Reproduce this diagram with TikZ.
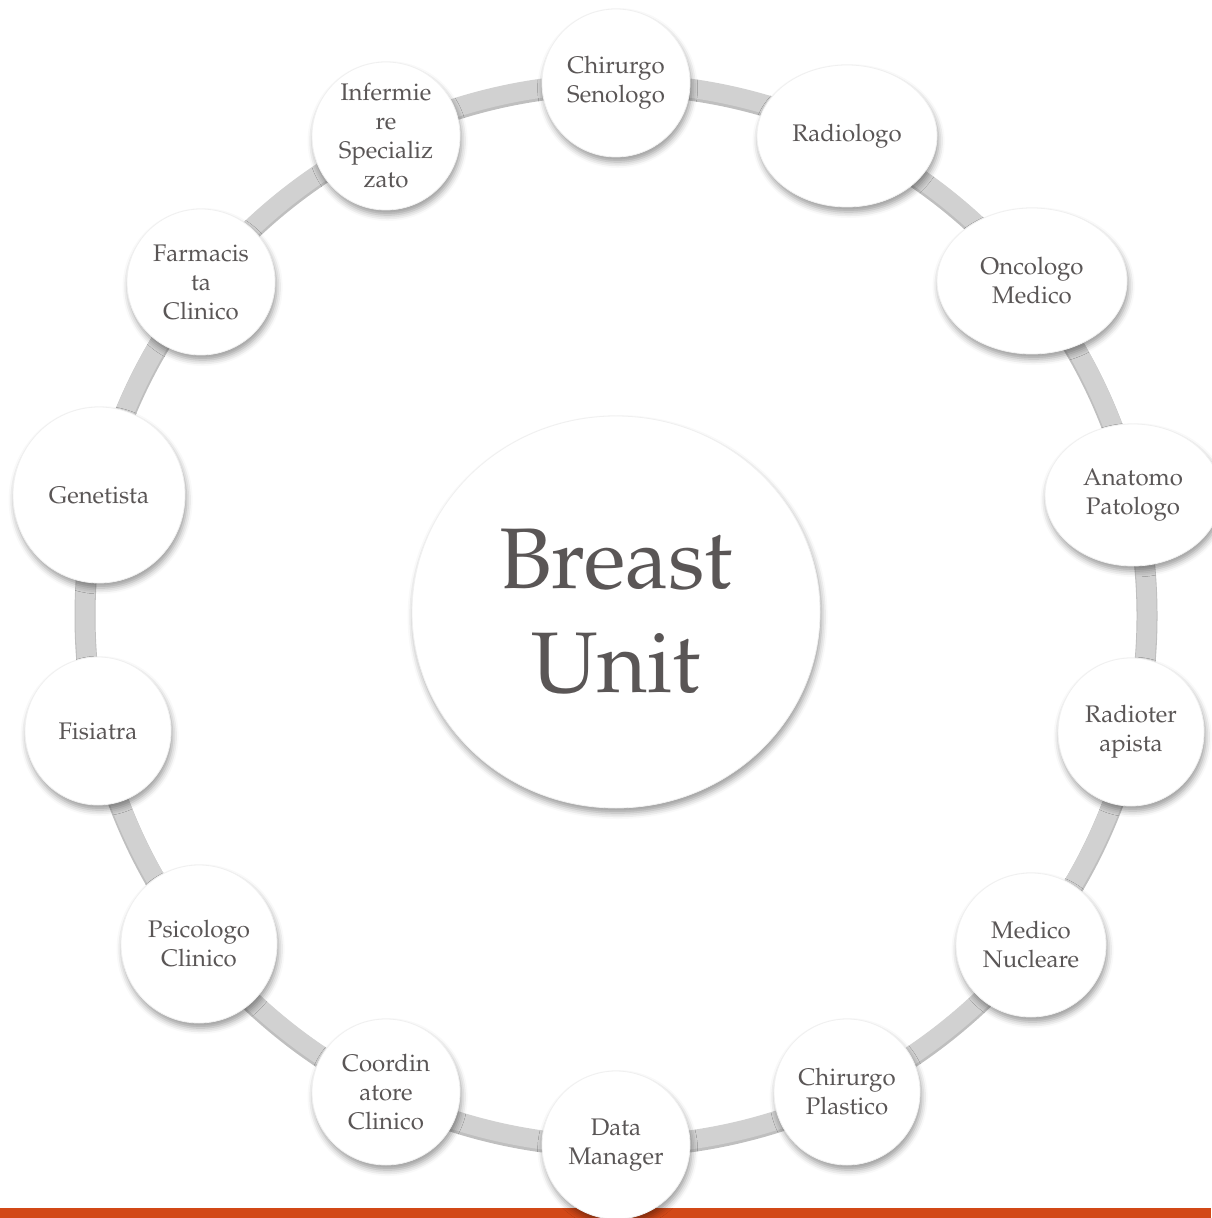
\documentclass[tikz,border=0pt]{standalone}
\usepackage[T1]{fontenc}
\usepackage{mathpazo}
\usetikzlibrary{shapes.geometric,shadows.blur}
\definecolor{txtgray}{RGB}{90,86,86}
\definecolor{barorange}{RGB}{210,72,23}
\tikzset{
  member/.style={ellipse, fill=white, draw=gray!12, text=txtgray, align=center,
    inner sep=-8pt, font=\fontsize{12}{14.5}\selectfont,
    blur shadow={shadow xshift=0.8pt, shadow yshift=-2.5pt, shadow blur radius=3pt, shadow opacity=40}},
  hub/.style={member, font=\fontsize{43}{52}\selectfont},
  band/.style={line width=9.5pt, gray!36},
  bandshadow/.style={line width=10.5pt, gray!50},
}

\begin{document}
\begin{tikzpicture}[x=0.5pt,y=-0.5pt]
\useasboundingbox (0,0) rectangle (1211,1218);
% ring
\coordinate (o) at (616,614);
\draw[bandshadow] ([yshift=-1pt]o) circle [radius=265.5pt];
\draw[band] (o) circle [radius=265.5pt];
% bottom bar
\fill[barorange] (0,1208) rectangle (1211,1218);
% members
\node (0) at (616,83) [member, minimum width=74pt, minimum height=74pt] {Chirurgo\\Senologo};
\node (1) at (847,136) [member, minimum width=90pt, minimum height=71pt] {Radiologo};
\node (2) at (1032,281) [member, minimum width=95pt, minimum height=73pt] {Oncologo\\Medico};
\node (3) at (1133,495) [member, minimum width=88pt, minimum height=71pt] {Anatomo\\Patologo};
\node (4) at (1131,732) [member, minimum width=73pt, minimum height=74pt] {Radioter\\apista};
\node (5) at (1031,945) [member, minimum width=75pt, minimum height=72pt] {Medico\\Nucleare};
\node (6) at (847,1092) [member, minimum width=73pt, minimum height=73pt] {Chirurgo\\Plastico};
\node (7) at (616,1145) [member, minimum width=74pt, minimum height=74pt] {Data\\Manager};
\node (8) at (386,1092) [member, minimum width=74pt, minimum height=73pt] {Coordin\\atore\\Clinico};
\node (9) at (199,944) [member, minimum width=78pt, minimum height=79pt] {Psicologo\\Clinico};
\node (10) at (98,731) [member, minimum width=73pt, minimum height=74pt] {Fisiatra};
\node (11) at (99,495) [member, minimum width=86pt, minimum height=88pt] {Genetista};
\node (12) at (201,282) [member, minimum width=74pt, minimum height=73pt] {Farmacis\\ta\\Clinico};
\node (13) at (386,136) [member, minimum width=74pt, minimum height=74pt] {Infermie\\re\\Specializ\\zato};
% centre
\node (c) at (616,612) [hub, minimum width=204pt, minimum height=196pt] {Breast\\Unit};
\end{tikzpicture}
\end{document}
